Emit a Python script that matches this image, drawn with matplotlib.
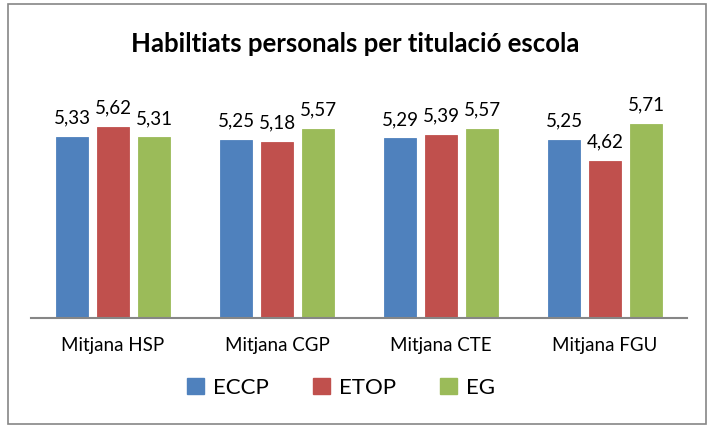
import matplotlib
matplotlib.use("Agg")
import matplotlib.pyplot as plt
import numpy as np
from matplotlib.patches import Rectangle

categories = ["Mitjana HSP", "Mitjana CGP", "Mitjana CTE", "Mitjana FGU"]
series_names = ["ECCP", "ETOP", "EG"]
eccp = [5.33, 5.25, 5.29, 5.25]
etop = [5.62, 5.18, 5.39, 4.62]
eg = [5.31, 5.57, 5.57, 5.71]
colors = ["#4F81BD", "#C0504D", "#9BBB59"]

plt.rcParams['font.family'] = ['Lato', 'DejaVu Sans']

W, H = 711, 428
fig = plt.figure(figsize=(W / 100, H / 100), dpi=100)
ax = fig.add_axes([31 / W, (H - 318) / H, (687 - 31) / W, (318 - 80) / H])

x = np.arange(len(categories))
width = 0.2
offsets = [-0.25, 0.0, 0.25]
for vals, name, col, off in zip([eccp, etop, eg], series_names, colors, offsets):
    bars = ax.bar(x + off, vals, width, color=col, label=name,
                  edgecolor=col, linewidth=0.6)
    for b, v in zip(bars, vals):
        ax.text(b.get_x() + b.get_width() / 2, v + 0.3,
                f"{v:.2f}".replace(".", ","), ha="center", va="bottom",
                fontsize=13.5, color="black")

ax.set_xlim(-0.5, len(categories) - 0.5)
ax.set_ylim(0, 7)
ax.set_yticks([])
for s in ["top", "right", "left"]:
    ax.spines[s].set_visible(False)
ax.spines["bottom"].set_color("#868686")
ax.spines["bottom"].set_linewidth(1.5)
ax.set_xticks(x)
ax.set_xticklabels(categories, fontsize=13.5)
ax.tick_params(axis="x", length=0, pad=14)

fig.text(0.5, (H - 44) / H, "Habiltiats personals per titulació escola",
         ha="center", va="center", fontsize=18.5, fontweight="bold")

handles = [Rectangle((0, 0), 1, 1, color=c) for c in colors]
fig.legend(handles, series_names, loc="center", bbox_to_anchor=(341 / W, (H - 388) / H),
           ncol=3, frameon=False, fontsize=16, handlelength=0.75, handleheight=0.75,
           columnspacing=2.0, handletextpad=0.4)

fig.add_artist(Rectangle((8 / W, 4 / H), (706 - 8) / W, (424 - 4) / H,
                         transform=fig.transFigure, fill=False,
                         edgecolor="#868686", linewidth=1.2))

fig.savefig("out.png", dpi=100)
